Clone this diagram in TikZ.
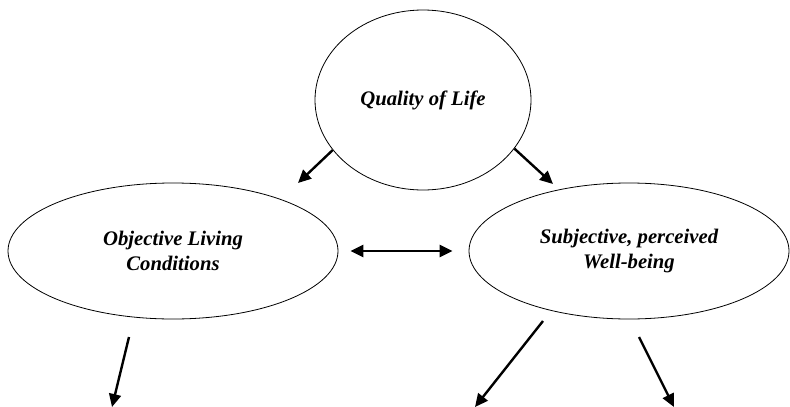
\documentclass[tikz,border=0pt]{standalone}
\usepackage{fontspec}
\setmainfont{Liberation Serif}
\usetikzlibrary{shapes.geometric,arrows.meta}

\tikzstyle{blob} = [ellipse, draw, line width=0.8pt, inner sep=0pt, align=center, font=\fontsize{20.7}{25}\selectfont\bfseries\itshape]
\tikzstyle{link} = [line width=2.4pt, -{Triangle[length=13pt,width=12pt]}]

\begin{document}
\begin{tikzpicture}[x=1pt,y=-1pt]
\useasboundingbox (0,0) rectangle (790,407);
\node[blob, minimum width=216pt, minimum height=180pt] (qol) at (423,100) {Quality of Life};
\node[blob, minimum width=330pt, minimum height=136pt] (objective) at (173,251) {Objective Living\\Conditions};
\node[blob, minimum width=320pt, minimum height=136pt] (subjective) at (629,251) {Subjective, perceived\\Well-being};

\coordinate (qolL) at (298,183);
\coordinate (qolR) at (553,184);
\coordinate (objS) at (129,337);
\coordinate (objT) at (112,407);
\coordinate (subS1) at (543,321);
\coordinate (subT1) at (475,407);
\coordinate (subS2) at (639,337);
\coordinate (subT2) at (674,407);

\draw[link] (qol.209) -- (qolL);
\draw[link] (qol.332) -- (qolR);
\draw[link, {Triangle[length=13pt,width=12pt]}-{Triangle[length=13pt,width=12pt]}] ([xshift=12pt]objective.east) -- ([xshift=-16pt]subjective.west);
\draw[link] (objS) -- (objT);
\draw[link] (subS1) -- (subT1);
\draw[link] (subS2) -- (subT2);
\end{tikzpicture}
\end{document}
